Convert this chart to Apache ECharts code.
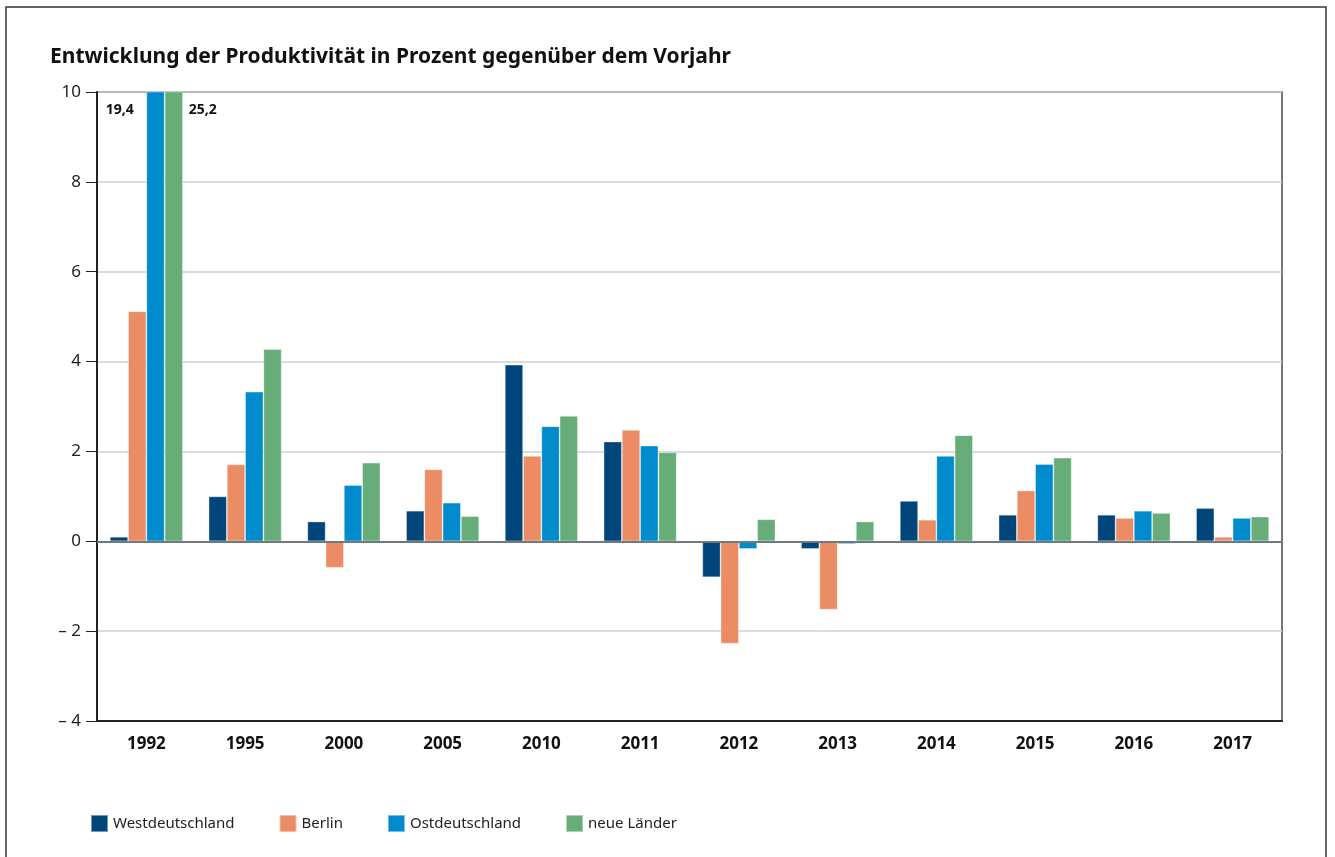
<!DOCTYPE html>
<html>
<head>
<meta charset="utf-8">
<script src="https://cdn.jsdelivr.net/npm/echarts@6/dist/echarts.min.js"></script>
<style>
  html, body { margin: 0; padding: 0; background: #fff; }
  #app { width: 1335px; height: 857px; }
</style>
</head>
<body>
<div id="app"></div>
<script>
const years = ['1992', '1995', '2000', '2005', '2010', '2011', '2012', '2013', '2014', '2015', '2016', '2017'];
const west = [0.1, 1.0, 0.44, 0.68, 3.93, 2.22, -0.8, -0.17, 0.9, 0.59, 0.59, 0.74];
const berlin = [5.12, 1.71, -0.59, 1.6, 1.9, 2.48, -2.28, -1.52, 0.48, 1.13, 0.52, 0.1];
const ost = [19.4, 3.33, 1.25, 0.86, 2.56, 2.13, -0.17, -0.06, 1.9, 1.72, 0.68, 0.52];
const neue = [25.2, 4.28, 1.75, 0.56, 2.79, 1.98, 0.49, 0.44, 2.36, 1.86, 0.63, 0.55];
const names = ['Westdeutschland', 'Berlin', 'Ostdeutschland', 'neue Länder'];
const colors = ['#00467a', '#ec8c65', '#008bcc', '#66ad7a'];

const font = 'Noto Sans';

const bar = (name, data, color) => ({
  name,
  type: 'bar',
  data,
  barGap: 0,
  barCategoryGap: '26%',
  clip: true,
  itemStyle: { color, borderColor: 'rgba(255,255,255,0.45)', borderWidth: 0.8 }
});

const series = [
  bar(names[0], west, colors[0]),
  bar(names[1], berlin, colors[1]),
  bar(names[2], ost, colors[2]),
  bar(names[3], neue, colors[3])
];

// zero line
series[0].markLine = {
  silent: true,
  symbol: 'none',
  label: { show: false },
  lineStyle: { color: '#6e7a80', width: 2, type: 'solid' },
  data: [{ yAxis: 0 }]
};

// values of the clipped 1992 bars (anchored on the neue Länder bar)
series[3].markPoint = {
  silent: true,
  symbol: 'rect',
  symbolSize: 0,
  label: {
    show: true,
    fontFamily: font,
    fontWeight: 'bold',
    fontSize: 14,
    color: '#111'
  },
  data: [
    { coord: ['1992', 10], value: '19,4', label: { formatter: '19,4', offset: [-54, 18] } },
    { coord: ['1992', 10], value: '25,2', label: { formatter: '25,2', offset: [29, 18] } }
  ]
};

const chart = echarts.init(document.getElementById('app'));
chart.setOption({
  animation: false,
  color: colors,
  title: {
    text: 'Entwicklung der Produktivität in Prozent gegenüber dem Vorjahr',
    left: 45,
    top: 42,
    textStyle: { fontFamily: font, fontWeight: 'bold', fontSize: 21, color: '#111' }
  },
  legend: {
    left: 85,
    top: 809,
    icon: 'rect',
    itemWidth: 17,
    itemHeight: 17,
    itemGap: 44,
    data: names,
    textStyle: { fontFamily: font, fontSize: 15, color: '#222' }
  },
  graphic: [{
    type: 'rect',
    silent: true,
    z: -1,
    shape: { x: 6, y: 7, width: 1320, height: 900 },
    style: { fill: 'none', stroke: '#333', lineWidth: 1.5 }
  }],
  grid: {
    left: 97,
    right: 53,
    top: 92,
    bottom: 136,
    show: true,
    borderColor: '#4a4a4a',
    borderWidth: 1.5
  },
  xAxis: {
    type: 'category',
    data: years,
    axisLine: { onZero: false, lineStyle: { color: '#222', width: 2 } },
    axisTick: { show: false },
    axisLabel: { margin: 15, fontFamily: font, fontWeight: 'bold', fontSize: 17, color: '#111' }
  },
  yAxis: {
    type: 'value',
    min: -4,
    max: 10,
    interval: 2,
    axisLine: { show: true, lineStyle: { color: '#222', width: 2 } },
    axisTick: { show: true, length: 11, lineStyle: { color: '#222', width: 1 } },
    splitLine: { lineStyle: { color: '#c9d1d6', width: 1.5 } },
    axisLabel: {
      margin: 16,
      fontFamily: font,
      fontSize: 17,
      color: '#222',
      formatter: v => (v < 0 ? '\u2013 ' + Math.abs(v) : String(v))
    }
  },
  series
});
</script>
</body>
</html>
